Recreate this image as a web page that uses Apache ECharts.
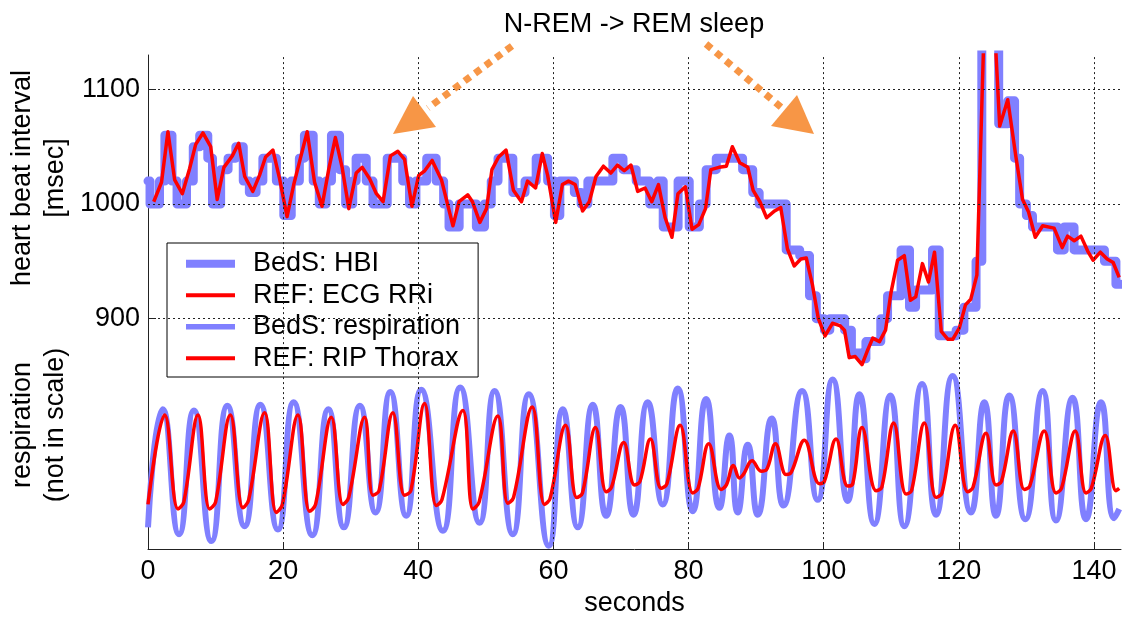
<!DOCTYPE html>
<html><head><meta charset="utf-8">
<script src="https://cdn.jsdelivr.net/npm/echarts@6/dist/echarts.min.js"></script>
<style>html,body{margin:0;padding:0;background:#fff}#c{width:1122px;height:622px}</style>
</head><body><div id="c"></div>
<script>
// ---- tick labels ----
const xTicks = [0, 20, 40, 60, 80, 100, 120, 140];
const yTicks = [900, 1000, 1100];

// ---- series names ----
const seriesNames = ['BedS: HBI', 'REF: ECG RRi', 'BedS: respiration', 'REF: RIP Thorax'];

// ---- BedS heart beat interval (step levels: [start time s, msec]) ----
const hbiBedS = [[0,1020],[0.3,1000],[1.7,1020],[2.5,1060],[3.55,1020],[4.3,1000],[5.7,1020],[6.7,1050],[7.65,1060],[8.85,1040],[9.55,1000],[10.75,1030],[11.85,1040],[13.0,1050],[14.1,1020],[15.0,1010],[16.0,1020],[17.0,1040],[19.0,1020],[20.1,990],[21.2,1020],[22.4,1040],[23.15,1060],[24.45,1020],[25.35,1000],[26.35,1020],[27.15,1060],[28.35,1030],[29.25,1000],[30.3,1020],[30.8,1040],[32.3,1020],[33.3,1000],[35.4,1040],[37.7,1020],[38.7,1000],[39.65,1020],[41.25,1040],[42.65,1020],[43.75,1000],[44.55,980],[46.05,1000],[48.6,980],[49.8,1000],[50.8,1020],[51.8,1040],[54.0,1010],[55.8,1020],[57.45,1040],[59.15,1020],[60.15,990],[60.95,1020],[63.1,1010],[64.1,1000],[65.1,1020],[68.8,1040],[70.3,1030],[72.25,1020],[74.25,1000],[75.45,1020],[76.25,980],[78.45,1020],[80.1,980],[81.6,1000],[82.6,1030],[84.1,1040],[88.0,1030],[89.5,1010],[90.45,1000],[94.45,960],[96.45,955],[97.9,920],[98.9,900],[100.1,890],[100.9,900],[103.1,890],[104.1,870],[105.55,865],[106.25,880],[108.45,900],[109.45,920],[111.45,960],[112.7,910],[113.6,925],[116.1,960],[117.1,885],[119.6,890],[120.75,910],[122.55,950],[123.4,1300],[125.9,1070],[127.25,1090],[128.25,1040],[129.0,1000],[130.0,990],[130.9,980],[134.6,960],[135.6,980],[137.05,960],[141.55,950],[143.25,930],[144,930]];

// ---- reference ECG RR intervals [time s, msec] ----
const ecgRRi = [[0.85,1002],[2.0,1019],[2.95,1063],[3.95,1021],[5.08,1009],[6.16,1031],[7.06,1052],[8.13,1062],[9.28,1050],[10.24,1004],[11.23,1032],[12.48,1042],[13.42,1053],[14.31,1024],[15.51,1011],[16.5,1025],[17.4,1041],[18.49,1047],[19.48,1022],[20.58,989],[21.57,1017],[22.56,1040],[23.56,1063],[24.65,1019],[25.75,998],[26.74,1030],[27.73,1058],[28.73,1032],[29.72,996],[30.81,1027],[31.71,1032],[32.8,1022],[33.8,1009],[34.79,1002],[35.88,1042],[36.98,1046],[37.97,1039],[39.06,998],[40.06,1025],[40.95,1029],[42.05,1038],[43.44,1021],[45.13,981],[46.03,1002],[47.32,1008],[48.02,1002],[49.11,984],[50.1,996],[50.9,1030],[51.89,1041],[52.99,1047],[54.08,1012],[55.27,1002],[56.17,1020],[57.36,1014],[58.35,1044],[59.15,1025],[60.34,984],[61.33,1017],[62.23,1020],[63.22,1017],[64.32,994],[65.31,1002],[66.3,1024],[67.4,1033],[68.49,1027],[69.48,1034],[70.48,1029],[71.47,1034],[72.47,1011],[73.56,1014],[74.55,1002],[75.55,1017],[76.54,988],[77.54,971],[78.43,1009],[79.53,1015],[80.52,978],[81.51,982],[82.51,996],[83.3,1030],[84.5,1032],[85.59,1033],[86.48,1050],[87.58,1036],[88.77,1032],[89.56,1012],[90.56,1002],[91.55,988],[92.74,994],[93.64,997],[94.63,961],[95.63,946],[96.62,952],[97.42,953],[98.32,930],[99.21,900],[100.2,885],[101.29,896],[102.39,894],[103.08,890],[103.78,866],[104.67,867],[105.67,860],[106.46,872],[107.26,883],[108.26,880],[109.15,890],[109.94,922],[110.94,951],[111.93,955],[112.83,916],[113.62,919],[114.61,948],[115.51,932],[116.4,958],[117.4,889],[118.39,882],[119.09,882],[120.08,892],[120.98,912],[121.77,917],[122.67,938],[124.3,1268],[126.05,1068],[127.24,1091],[128.43,1042],[129.43,1004],[130.32,993],[131.31,971],[132.41,981],[134.1,979],[135.3,962],[136.09,972],[137.08,968],[138.07,972],[139.07,959],[139.86,951],[140.95,958],[141.95,952],[142.84,949],[143.73,936]];

// ---- BedS respiration (not in scale) [time s, value] ----
const respBedS = [[0,718],[2.17,821],[4.59,712],[6.8,820],[9.38,706],[11.75,824],[14.3,719],[16.63,825],[19.23,716],[21.55,827],[24.32,711],[26.69,821],[28.99,718],[31.36,824],[33.68,731],[35.86,836],[38.22,728],[40.44,838],[43.64,715],[46.21,840],[49.07,722],[51.29,837],[53.99,712],[56.36,834],[59.32,702],[61.39,821],[63.61,718],[65.83,825],[67.81,728],[69.93,823],[71.85,729],[73.96,827],[76.18,738],[78.4,839],[80.62,732],[82.6,830],[84.57,735],[86.05,798],[87.28,731],[88.76,790],[90.24,729],[92.31,813],[94.04,737],[96.8,837],[99.11,742],[101.33,847],[103.55,741],[105.28,834],[107.5,721],[109.87,833],[111.94,719],[114.56,843],[116.63,729],[119.08,850],[121.8,731],[123.77,827],[125.5,728],[127.47,833],[129.84,725],[132.4,837],[134.38,724],[136.83,831],[138.82,725],[141.04,827],[143.0,726],[143.74,734]];

// ---- reference RIP thorax (not in scale) [time s, value] ----
const ripThorax = [[0,738],[2.47,816],[4.44,734],[5.3,740],[7.4,816],[9.13,734],[10.0,740],[12.19,816],[14.05,735],[14.9,742],[17.26,818],[18.99,731],[19.9,738],[22.19,816],[23.92,732],[24.8,738],[27.13,814],[28.85,738],[29.7,744],[32.06,814],[33.28,746],[34.2,750],[36.24,818],[37.97,746],[38.9,750],[40.93,826],[42.66,737],[43.5,742],[46.6,820],[48.08,734],[49.0,740],[51.78,815],[53.25,739],[54.1,744],[56.86,823],[58.68,738],[59.5,743],[61.79,807],[63.46,744],[64.3,748],[66.23,805],[67.81,749],[68.6,753],[70.41,792],[72.0,755],[72.8,758],[74.36,795],[75.95,752],[76.8,756],[78.76,807],[80.62,748],[81.4,752],[82.99,791],[84.82,751],[85.6,755],[86.64,772],[87.53,761],[88.1,764],[89.41,776],[90.74,767],[91.5,768],[92.86,791],[94.44,764],[95.2,766],[97.14,794],[99.36,756],[100.1,758],[101.83,795],[103.55,754],[104.3,756],[105.68,805],[107.75,750],[108.6,753],[110.36,809],[112.19,747],[113.0,750],[114.9,809],[116.63,744],[117.5,748],[119.48,807],[121.3,749],[122.1,753],[124.02,800],[125.5,755],[126.3,758],[128.06,802],[129.69,751],[130.5,754],[132.65,802],[134.38,748],[135.2,752],[137.23,802],[138.82,748],[139.6,752],[141.67,798],[143.25,750],[143.74,752]];

const FONT = '"Liberation Sans", Arial, Helvetica, sans-serif';
const FS = 27;
const BLUE = '#8080ff';
const RED = '#ff0000';
const ORANGE = '#f79646';
const legendWidths = [8, 4, 5.5, 4];
const legendColors = [BLUE, RED, BLUE, RED];

const chart = echarts.init(document.getElementById('c'), null, {renderer: 'canvas'});

const gridMarks = xTicks.filter(v => v > 0).map(v => ({xAxis: v}))
  .concat(yTicks.map(v => ({yAxis: v})));

const option = {
  animation: false,
  backgroundColor: '#fff',
  grid: {left: 148, right: 1, top: 55, bottom: 67, containLabel: false},
  xAxis: {
    type: 'value', min: 0, max: 144, interval: 20,
    name: 'seconds', nameLocation: 'middle', nameGap: 38,
    nameTextStyle: {fontFamily: FONT, fontSize: FS, color: '#000'},
    axisLine: {show: true, onZero: false, lineStyle: {color: '#222', width: 1}},
    axisTick: {show: true, inside: true, length: 7, customValues: xTicks, lineStyle: {color: '#222'}},
    axisLabel: {customValues: xTicks, fontFamily: FONT, fontSize: FS, color: '#000', margin: 9,
      formatter: v => String(v)},
    splitLine: {show: false}
  },
  yAxis: {
    type: 'value', min: 699, max: 1130,
    axisLine: {show: true, onZero: false, lineStyle: {color: '#222', width: 1}},
    axisTick: {show: true, inside: true, length: 8, customValues: yTicks, lineStyle: {color: '#222'}},
    axisLabel: {customValues: yTicks, fontFamily: FONT, fontSize: FS, color: '#000', margin: 8,
      formatter: v => String(v)},
    splitLine: {show: false}
  },
  legend: {
    orient: 'vertical', left: 167, top: 243,
    padding: [5, 18, 3, 15], itemGap: 0, itemWidth: 49, itemHeight: 14,
    backgroundColor: '#fff', borderColor: '#000', borderWidth: 1, borderRadius: 0,
    selectedMode: false,
    itemStyle: {opacity: 0},
    textStyle: {fontFamily: FONT, fontSize: FS, color: '#000', lineHeight: 31.5, padding: [0, 0, 0, 13]},
    data: seriesNames.map((n, i) => ({
      name: n,
      itemStyle: {opacity: 0},
      lineStyle: {width: legendWidths[i], color: legendColors[i], cap: 'butt'}
    }))
  },
  series: [
    {
      name: 'grid', type: 'line', data: [], z: 1, silent: true,
      markLine: {
        silent: true, symbol: ['none', 'none'], label: {show: false}, animation: false,
        lineStyle: {color: '#222', width: 1, type: [2, 3]},
        emphasis: {disabled: true},
        data: gridMarks
      }
    },
    {
      name: seriesNames[0], type: 'line', data: hbiBedS, step: 'end',
      symbol: 'none', z: 2, clip: true,
      lineStyle: {color: BLUE, width: 9, join: 'round', cap: 'round'}, itemStyle: {color: BLUE}
    },
    {
      name: seriesNames[1], type: 'line', data: ecgRRi,
      symbol: 'none', z: 3, clip: true,
      lineStyle: {color: RED, width: 3.5, join: 'round'}, itemStyle: {color: RED}
    },
    {
      name: seriesNames[2], type: 'line', data: respBedS, smooth: 0.55,
      symbol: 'none', z: 2, clip: true,
      lineStyle: {color: BLUE, width: 6}, itemStyle: {color: BLUE}
    },
    {
      name: seriesNames[3], type: 'line', data: ripThorax, smooth: 0.4,
      symbol: 'none', z: 3, clip: true,
      lineStyle: {color: RED, width: 3.5, join: 'round'}, itemStyle: {color: RED}
    }
  ],
  graphic: {
    elements: [
      {type: 'text', x: 23, y: 178, rotation: Math.PI / 2, z: 10,
       style: {text: 'heart beat interval', fontFamily: FONT, fontSize: FS, fill: '#000', align: 'center', verticalAlign: 'middle', textAlign: 'center', textVerticalAlign: 'middle'}},
      {type: 'text', x: 56, y: 178, rotation: Math.PI / 2, z: 10,
       style: {text: '[msec]', fontFamily: FONT, fontSize: FS, fill: '#000', align: 'center', verticalAlign: 'middle', textAlign: 'center', textVerticalAlign: 'middle'}},
      {type: 'text', x: 23, y: 425, rotation: Math.PI / 2, z: 10,
       style: {text: 'respiration', fontFamily: FONT, fontSize: FS, fill: '#000', align: 'center', verticalAlign: 'middle', textAlign: 'center', textVerticalAlign: 'middle'}},
      {type: 'text', x: 56, y: 425, rotation: Math.PI / 2, z: 10,
       style: {text: '(not in scale)', fontFamily: FONT, fontSize: FS, fill: '#000', align: 'center', verticalAlign: 'middle', textAlign: 'center', textVerticalAlign: 'middle'}},
      {type: 'text', x: 634, y: 25, z: 10,
       style: {text: 'N-REM -> REM sleep', fontFamily: FONT, fontSize: FS, fill: '#000', align: 'center', verticalAlign: 'middle', textAlign: 'center', textVerticalAlign: 'middle'}},
      {type: 'polyline', z: 10, shape: {points: [[512, 46], [428, 108]]},
       style: {stroke: ORANGE, lineWidth: 7, lineDash: [7, 6], lineCap: 'butt', fill: null}},
      {type: 'polygon', z: 10, shape: {points: [[393, 134], [413, 96], [436, 127]]},
       style: {fill: ORANGE, stroke: null}},
      {type: 'polyline', z: 10, shape: {points: [[706, 44], [782, 108]]},
       style: {stroke: ORANGE, lineWidth: 7, lineDash: [7, 6], lineCap: 'butt', fill: null}},
      {type: 'polygon', z: 10, shape: {points: [[814, 134], [797, 95], [771, 126]]},
       style: {fill: ORANGE, stroke: null}}
    ]
  }
};
chart.setOption(option);
</script>
</body></html>
